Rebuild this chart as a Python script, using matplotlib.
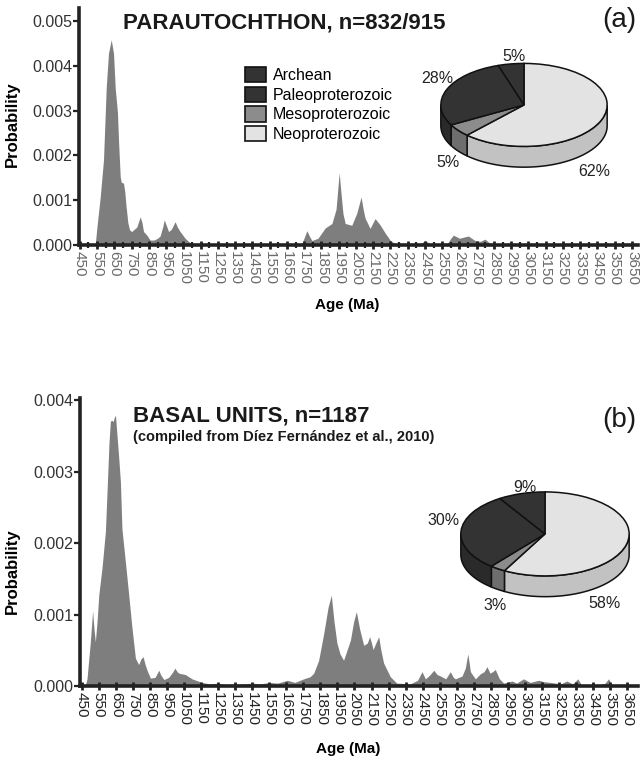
import numpy as np
import matplotlib.pyplot as plt
from matplotlib.patches import Patch
from matplotlib.ticker import MultipleLocator, FormatStrFormatter

plt.rcParams['font.family'] = ['Liberation Sans', 'DejaVu Sans']

# ---- data ----
age_a = [450, 530, 540, 549, 568, 587, 603, 616, 632, 645, 655, 668, 674, 684, 690, 703, 710,
         718, 728, 738, 750, 765, 780, 800, 810, 819, 838, 857, 880, 900, 915, 930, 939, 950,
         964, 980, 1002, 1015, 1031, 1060, 1089, 1110, 1150, 1700, 1737, 1766, 1780, 1795,
         1830, 1872, 1911, 1935, 1953, 1965, 1975, 1988, 2026, 2055, 2080, 2092, 2103, 2132,
         2161, 2190, 2219, 2248, 2280, 2420, 2451, 2480, 2580, 2600, 2615, 2650, 2680, 2702,
         2740, 2770, 2798, 2830, 2870, 3700]
prob_a = [0, 0, 0.00005, 0.0004, 0.00107, 0.0019, 0.00353, 0.00428, 0.00458, 0.00428, 0.0035,
          0.00295, 0.00234, 0.00152, 0.0014, 0.00138, 0.0012, 0.00086, 0.0005, 0.00034, 0.0003,
          0.00035, 0.0004, 0.00063, 0.0005, 0.0003, 0.00022, 0.00011, 0.00011, 0.00015, 0.0002,
          0.0004, 0.00056, 0.00045, 0.0003, 0.00035, 0.00052, 0.0004, 0.0003, 0.00015, 0.00005,
          0.00002, 0.00001, 0.00001, 0.00003, 0.00032, 0.0002, 0.0001, 0.00015, 0.00038,
          0.00048, 0.0008, 0.00161, 0.0011, 0.0007, 0.00048, 0.00044, 0.00071, 0.00107, 0.0008,
          0.0006, 0.00037, 0.00059, 0.00045, 0.00027, 0.00011, 0.00002, 0.00002, 0.0001,
          0.00003, 0.00003, 0.00015, 0.00022, 0.00015, 0.00018, 0.0002, 0.0001, 0.00008,
          0.00013, 0.00003, 0.00001, 0]

age_b = [450, 470, 481, 500, 514, 522, 530, 540, 550, 569, 589, 600, 610, 618, 625, 635, 640,
         648, 657, 667, 677, 686, 706, 726, 745, 765, 784, 798, 810, 822, 835, 853, 880, 902,
         915, 932, 960, 985, 996, 1010, 1019, 1058, 1097, 1155, 1200, 1250, 1300, 1400, 1450,
         1500, 1550, 1600, 1656, 1700, 1752, 1790, 1811, 1840, 1870, 1895, 1914, 1930, 1947,
         1965, 1986, 2026, 2045, 2061, 2080, 2104, 2125, 2139, 2150, 2159, 2175, 2192, 2205,
         2221, 2260, 2298, 2378, 2420, 2446, 2466, 2490, 2515, 2535, 2554, 2585, 2612, 2630,
         2642, 2681, 2700, 2715, 2730, 2759, 2788, 2810, 2827, 2845, 2860, 2876, 2900, 2925,
         2974, 3000, 3042, 3080, 3130, 3160, 3200, 3228, 3260, 3295, 3330, 3360, 3380, 3480,
         3520, 3540, 3560, 3700]
prob_b = [0, 0, 0.0001, 0.0006, 0.00105, 0.0008, 0.00062, 0.0009, 0.00127, 0.00165, 0.00216,
          0.0028, 0.0034, 0.0037, 0.00372, 0.0037, 0.00375, 0.00379, 0.00351, 0.0032, 0.00286,
          0.0022, 0.00174, 0.00127, 0.00081, 0.00039, 0.0003, 0.00038, 0.00041, 0.0003,
          0.00021, 0.00011, 0.00012, 0.00022, 0.00015, 0.00009, 0.00012, 0.0002, 0.00025,
          0.0002, 0.00018, 0.00016, 0.0001, 0.00005, 0.00003, 0.00004, 0.00002, 0.00003,
          0.00004, 0.00003, 0.00005, 0.00004, 0.00008, 0.00005, 0.0001, 0.00013, 0.00018,
          0.00036, 0.00074, 0.0011, 0.00127, 0.0009, 0.0006, 0.00045, 0.00036, 0.00064, 0.0009,
          0.00104, 0.0008, 0.00057, 0.0006, 0.00069, 0.0006, 0.00051, 0.0006, 0.00069, 0.0005,
          0.00032, 0.00013, 0.00004, 0.00003, 0.00008, 0.0002, 0.0001, 0.00015, 0.00022,
          0.00016, 0.00014, 0.0001, 0.0002, 0.00012, 0.0001, 0.00014, 0.00025, 0.00045, 0.0002,
          0.0001, 0.00017, 0.0002, 0.00027, 0.00018, 0.0002, 0.00023, 0.0001, 0.00004, 0.00007,
          0.00004, 0.0001, 0.00005, 0.00008, 0.00006, 0.00005, 0.00004, 0.00003, 0.00007,
          0.00003, 0.0001, 0.00002, 0.00001, 0.00004, 0.0001, 0.00002, 0]

# pie slices, clockwise from 12 o'clock
pie_labels = ['Neoproterozoic', 'Mesoproterozoic', 'Paleoproterozoic', 'Archean']
pie_a = [62, 5, 28, 5]
pie_b = [58, 3, 30, 9]
legend_order = ['Archean', 'Paleoproterozoic', 'Mesoproterozoic', 'Neoproterozoic']

top_col = {'Neoproterozoic': '#e3e3e3', 'Mesoproterozoic': '#8c8c8c',
           'Paleoproterozoic': '#333333', 'Archean': '#333333'}
side_col = {'Neoproterozoic': '#c2c2c2', 'Mesoproterozoic': '#6e6e6e',
            'Paleoproterozoic': '#2a2a2a', 'Archean': '#2a2a2a'}

W, H = 640, 758


def fx(x):
    return x / W


def fy(y):
    return 1 - y / H


fig = plt.figure(figsize=(6.4, 7.58), dpi=100)


def density_axes(rect, age, prob, xlim, ylim, minor, tick_col):
    ax = fig.add_axes(rect)
    ax.fill_between(age, prob, 0, color='#7e7e7e', lw=0)
    ax.set_xlim(*xlim)
    ax.set_ylim(*ylim)
    for s in ['top', 'right']:
        ax.spines[s].set_visible(False)
    for s in ['left', 'bottom']:
        ax.spines[s].set_linewidth(2.6)
        ax.spines[s].set_color('#222222')
    ax.set_xticks(np.arange(450, 3651, 100))
    ax.xaxis.set_major_formatter(FormatStrFormatter('%d'))
    if minor:
        ax.xaxis.set_minor_locator(MultipleLocator(50))
        ax.tick_params(axis='x', which='minor', direction='inout', length=5, width=1.6,
                       color='#222222')
    ax.tick_params(axis='x', which='major', direction='inout', length=6, width=2,
                   color='#222222', labelrotation=270, labelsize=11, pad=1,
                   labelcolor=tick_col)
    ax.yaxis.set_major_locator(MultipleLocator(0.001))
    ax.yaxis.set_major_formatter(FormatStrFormatter('%.3f'))
    ax.tick_params(axis='y', direction='out', length=4, width=1.6, color='#222222',
                   labelsize=11.5, pad=1, labelcolor='#333333')
    return ax


ax1 = density_axes([fx(79), fy(245), fx(638 - 79), (245 - 8) / H], age_a, prob_a,
                   (445, 3685), (0, 0.00529), True, '#6a6a6a')
ax2 = density_axes([fx(80), fy(686), fx(638 - 80), (686 - 398) / H], age_b, prob_b,
                   (440, 3713), (0, 0.00403), False, '#222222')
ax1.get_yticklabels()[0].set_color('#aaaaaa')

for ax, lx, ly, xy in [(ax1, -0.105, 0.51, -0.253), (ax2, -0.107, 0.40, -0.219)]:
    ax.set_ylabel('Probability', fontsize=12, fontweight='bold')
    ax.yaxis.set_label_coords(lx, ly)
    ax.text(0.48, xy, 'Age (Ma)', transform=ax.transAxes, ha='center', va='center',
            fontsize=11, fontweight='bold')

fig.text(fx(123), fy(23.5), 'PARAUTOCHTHON, n=832/915', fontsize=16, fontweight='bold',
         va='center', ha='left', color='#1a1a1a')
fig.text(fx(602), fy(20), '(a)', fontsize=20, va='center', ha='left', color='#1a1a1a')
fig.text(fx(133), fy(416), 'BASAL UNITS, n=1187', fontsize=16, fontweight='bold',
         va='center', ha='left', color='#1a1a1a')
fig.text(fx(133), fy(437), '(compiled from Díez Fernández et al., 2010)', fontsize=10.5,
         fontweight='bold', va='center', ha='left', color='#1a1a1a')
fig.text(fx(602), fy(420), '(b)', fontsize=20, va='center', ha='left', color='#1a1a1a')

handles = [Patch(facecolor=top_col[k], edgecolor='#111111', lw=1.2) for k in legend_order]
ax1.legend(handles, legend_order, loc='upper left', bbox_to_anchor=(fx(245), fy(67)),
           bbox_transform=fig.transFigure, frameon=False, fontsize=11.5, borderpad=0,
           borderaxespad=0, handlelength=1.3, handleheight=1.1, labelspacing=0.22,
           handletextpad=0.45)


def pie3d(cx, cy, rx, ry, depth, values, label_pos):
    d = depth / ry
    ax = fig.add_axes([fx(cx - rx), fy(cy + ry + depth), fx(2 * rx), (2 * ry + depth) / H])
    cols = [top_col[k] for k in pie_labels]
    wedges, _ = ax.pie(values, startangle=90, counterclock=False, colors=cols,
                       wedgeprops=dict(edgecolor='#111111', linewidth=1.1))
    # visible front side of each slice
    for w, k in zip(wedges, pie_labels):
        w.set_zorder(3)
        t = np.radians(np.linspace(w.theta1, w.theta2, 200))
        t = t[np.sin(t) <= 0]
        if len(t) < 2:
            continue
        xs = np.concatenate([np.cos(t), np.cos(t[::-1])])
        ys = np.concatenate([np.sin(t), np.sin(t[::-1]) - d])
        ax.fill(xs, ys, facecolor=side_col[k], edgecolor='#111111', lw=1.1, zorder=2)
    ax.set_aspect('auto')
    ax.set_xlim(-1.01, 1.01)
    ax.set_ylim(-1 - d - 0.02, 1.01)
    ax.axis('off')
    for v, (px, py) in zip(values, label_pos):
        ax.text((px - cx) / rx, (cy - py) / ry, f'{v}%', ha='center', va='center',
                fontsize=11.5, color='#222222')


pie3d(524, 105, 84, 42, 21, pie_a, [(595, 172), (447, 163), (436, 78), (514, 56)])
pie3d(545, 534, 85, 42.5, 21, pie_b, [(605, 604), (495, 606), (442, 520), (525, 487)])

fig.savefig('out.png', dpi=100)
